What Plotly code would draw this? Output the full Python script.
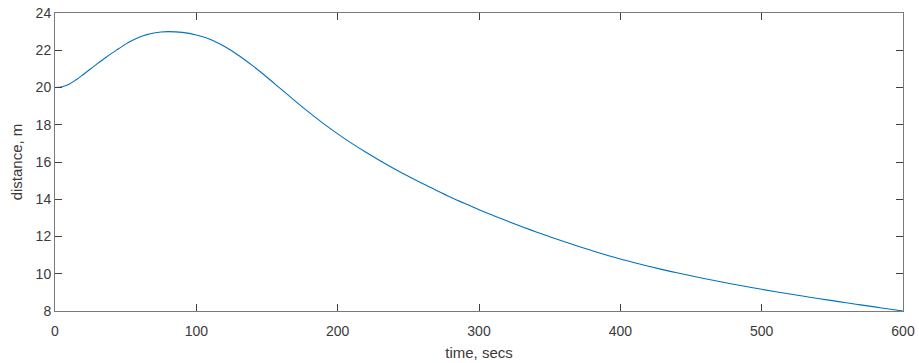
import plotly.graph_objects as go

time_s = [0, 5, 10, 15, 20, 25, 30, 35, 40, 45, 50, 55, 60, 65, 70, 75, 80, 90, 100,
          110, 120, 130, 140, 150, 160, 170, 180, 190, 200, 210, 220, 230, 240, 250,
          260, 270, 280, 290, 300, 310, 320, 330, 340, 350, 360, 370, 380, 390, 400,
          410, 420, 430, 440, 450, 460, 470, 480, 490, 500, 510, 520, 530, 540, 550,
          560, 570, 580, 590, 600]
distance_m = [20.0, 20.04, 20.18, 20.42, 20.7, 20.99, 21.28, 21.56, 21.83, 22.08, 22.33,
              22.54, 22.71, 22.84, 22.93, 22.98, 23.0, 22.96, 22.82,
              22.58, 22.2, 21.72, 21.16, 20.55, 19.91, 19.27, 18.65, 18.06, 17.51, 17.0,
              16.52, 16.07, 15.64, 15.23, 14.84, 14.47, 14.11, 13.77, 13.44, 13.13, 12.83,
              12.54, 12.26, 11.99, 11.73, 11.48, 11.24, 11.01, 10.79,
              10.59, 10.40, 10.22, 10.05, 9.89, 9.735, 9.585, 9.44, 9.30, 9.165,
              9.035, 8.91, 8.79, 8.67, 8.555, 8.44, 8.33, 8.22, 8.11, 8.0]
x_ticks = [0, 100, 200, 300, 400, 500, 600]
y_ticks = [8, 10, 12, 14, 16, 18, 20, 22, 24]

fig = go.Figure(go.Scatter(x=time_s, y=distance_m, mode="lines", line_shape="spline",
                           line=dict(color="#0072BD", width=1.1)))

font_family = "Liberation Sans, Arial"
axis_common = dict(showline=True, linecolor="#7a7a7a", linewidth=1, mirror="ticks",
                   ticks="inside", ticklen=7, tickcolor="#404040", tickwidth=1,
                   showgrid=False, zeroline=False, automargin=False,
                   tickfont=dict(family=font_family, size=14, color="#3a3a3a"),
                   title_font=dict(family=font_family, size=15, color="#3a3a3a"))

fig.update_xaxes(range=[0, 600], tickvals=x_ticks, title_text="time, secs",
                 ticklabelstandoff=7, title_standoff=9, **axis_common)
fig.update_yaxes(range=[8, 24], tickvals=y_ticks, title_text="distance, m",
                 title_standoff=9, **axis_common)

fig.update_layout(width=919, height=363, margin=dict(l=55, r=16, t=13, b=52),
                  paper_bgcolor="white", plot_bgcolor="white", showlegend=False)

fig.write_html("out.html")
